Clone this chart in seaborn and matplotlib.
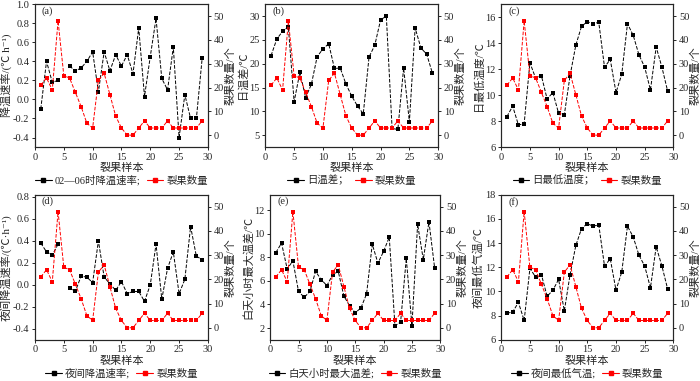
import numpy as np
import pandas as pd
import matplotlib
matplotlib.use("Agg")
import matplotlib.pyplot as plt
import seaborn as sns

# 裂果样本编号
samples = list(range(1, 30))

# 裂果数量 (右轴, 各子图相同)
crack_counts = [21, 24, 19, 48, 25, 24, 18, 12, 5, 3, 23, 26, 17, 8, 3,
                0, 0, 3, 6, 3, 3, 3, 6, 3, 3, 3, 3, 3, 6]

# (a) 02—06时降温速率
cool_rate_0206 = [-0.10, 0.40, 0.18, 0.20, np.nan, 0.35, 0.30, 0.33, 0.40, 0.50,
                  0.08, 0.50, 0.30, 0.47, 0.35, 0.47, 0.27, 0.75, 0.03, 0.45,
                  0.85, 0.22, 0.10, 0.55, -0.40, 0.05, -0.20, -0.20, 0.43]
# (b) 日温差
daily_range = [21.7, 25.2, 26.8, 27.7, 12.0, 18.2, 12.9, 15.7, 21.5, 23.1,
               24.2, 19.0, 19.1, 15.7, 13.2, 11.1, 9.5, 21.4, 23.9, 29.2,
               30.0, 6.4, 6.2, 19.1, 7.8, 27.5, 23.3, 22.0, 18.0]
# (c) 日最低温度
daily_min = [8.35, 9.15, 7.7, 7.8, 12.5, 11.3, 11.5, 9.7, 10.2, 8.6,
             8.5, 11.5, 13.85, 15.3, 15.65, 15.5, 15.6, 12.15, 12.75, 10.2,
             11.6, 15.5, 14.6, 13.1, 12.15, 10.4, 13.7, 12.15, 10.3]
# (d) 夜间降温速率
night_cool_rate = [0.38, 0.30, 0.27, 0.37, np.nan, -0.03, -0.06, 0.08, 0.07, 0.02,
                   0.40, 0.07, 0.01, -0.05, 0.03, -0.08, -0.06, -0.06, -0.15, 0.00,
                   0.37, -0.13, 0.15, 0.30, -0.08, 0.05, 0.53, 0.26, 0.23]
# (e) 白天小时最大温差
day_hour_max_diff = [8.4, 9.2, 7.0, 7.7, 5.1, 4.6, 5.1, 6.8, 6.1, 5.6,
                     6.5, 6.8, 4.7, 3.9, 3.3, 3.7, 4.9, 9.1, 7.5, 8.5,
                     9.7, 2.2, 2.5, 7.9, 2.2, 10.8, 7.8, 11.0, 7.1]
# (f) 夜间最低气温
night_min = [8.2, 8.3, 9.1, 7.6, 11.9, 11.2, 11.4, 9.6, 10.1, 11.0,
             8.4, 11.4, 13.8, 15.2, 15.6, 15.4, 15.5, 12.1, 12.7, 10.1,
             11.6, 15.4, 14.5, 13.0, 12.1, 10.3, 13.7, 12.1, 10.2]

panels = [
    # 字母, 数据, 左轴标签, 图例标签, 左轴范围, 左轴刻度, 位置
    ("(a)", cool_rate_0206, "降温速率/(℃ h⁻¹)", "02—06时降温速率;",
     (-0.5, 1.0), np.arange(-0.4, 1.01, 0.2), [0.050, 0.614, 0.247, 0.375]),
    ("(b)", daily_range, "日温差/℃", "日温差；",
     (2.5, 32.5), np.arange(5, 31, 5), [0.379, 0.614, 0.247, 0.375]),
    ("(c)", daily_min, "日最低温度/℃", "日最低温度；",
     (6, 17), np.arange(6, 17, 2), [0.716, 0.614, 0.246, 0.375]),
    ("(d)", night_cool_rate, "夜间降温速率/(℃·h⁻¹)", "夜间降温速率;",
     (-0.5, 0.82), np.arange(-0.4, 0.81, 0.2), [0.050, 0.108, 0.247, 0.381]),
    ("(e)", day_hour_max_diff, "白天小时最大温差/℃", "白天小时最大温差;",
     (1, 13.3), np.arange(2, 13, 2), [0.386, 0.108, 0.243, 0.381]),
    ("(f)", night_min, "夜间最低气温/℃", "夜间最低气温;",
     (6, 18), np.arange(6, 19, 2), [0.716, 0.108, 0.246, 0.381]),
]

sns.set_style("ticks")
plt.rcParams["font.family"] = ["Liberation Serif", "Noto Sans CJK SC", "DejaVu Sans"]
plt.rcParams["font.size"] = 7.5
plt.rcParams["axes.linewidth"] = 0.8
plt.rcParams["axes.unicode_minus"] = False

fig = plt.figure(figsize=(7.0, 3.81), dpi=100)

line_kw = dict(linestyle="--", linewidth=0.7, marker="s", markersize=2.2,
               markeredgewidth=0)

for letter, values, ylabel, leg_label, ylim, yticks, pos in panels:
    ax = fig.add_axes(pos)
    df = pd.DataFrame({"x": samples, "y": values})
    # 断点: 缺失值处分段
    df["seg"] = df["y"].isna().cumsum()
    df = df.dropna()
    sns.lineplot(data=df, x="x", y="y", units="seg", estimator=None,
                 color="black", ax=ax, **line_kw)
    ax.set_xlim(0, 30)
    ax.set_xticks(range(0, 31, 5))
    ax.set_ylim(*ylim)
    ax.set_yticks(yticks)
    ax.set_yticklabels([f"{t:.1f}" if ylim[1] < 2 else f"{t:g}" for t in yticks])
    ax.set_xlabel("裂果样本", fontsize=8, labelpad=1)
    ax.set_ylabel(ylabel, fontsize=8, labelpad=1)
    ax.tick_params(length=2.5, width=0.7, labelsize=7.5, pad=1.5)
    ax.text(0.04, 0.985, letter, transform=ax.transAxes, ha="left", va="top",
            fontsize=7.5)

    ax2 = ax.twinx()
    sns.lineplot(x=samples, y=crack_counts, color="red", ax=ax2, **line_kw)
    ax2.set_ylim(-5, 55)
    ax2.set_yticks(range(0, 51, 10))
    ax2.set_ylabel("裂果数量/个", fontsize=8, labelpad=1)
    ax2.tick_params(length=2.5, width=0.7, labelsize=7.5, pad=1.5)

    h1 = plt.Line2D([], [], color="black", linewidth=0.8, marker="s",
                    markersize=2.5)
    h2 = plt.Line2D([], [], color="red", linewidth=0.8, marker="s",
                    markersize=2.5)
    ax.legend([h1, h2], [leg_label, "裂果数量"], loc="upper center",
              bbox_to_anchor=(0.5, -0.185), ncol=2, frameon=False, fontsize=7.5,
              handlelength=1.6, handletextpad=0.3, columnspacing=0.6,
              borderaxespad=0, borderpad=0.15)

fig.savefig("out.png", dpi=100)
